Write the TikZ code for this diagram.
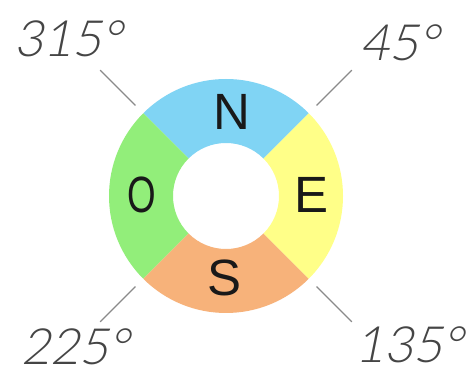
\documentclass[tikz,border=0pt]{standalone}
\usepackage{fontspec}
\newfontfamily\letfont{Liberation Sans}
\newfontfamily\degfont[FakeSlant=0.2]{Lato Light}
\definecolor{cblue}{HTML}{80D4F4}
\definecolor{cgreen}{HTML}{92EE7A}
\definecolor{cyellow}{HTML}{FFFF88}
\definecolor{corange}{HTML}{F7B27A}
\definecolor{tickgray}{HTML}{8A8A8A}
\definecolor{lblgray}{HTML}{454545}
\tikzset{
  letter/.style={font=\letfont\fontsize{51}{51}\selectfont, text=black!90, inner sep=0pt},
  deg/.style={font=\degfont\fontsize{50}{50}\selectfont, text=lblgray, inner sep=0pt},
  tick/.style={draw=tickgray, line width=1.1pt}
}
\begin{document}
\begin{tikzpicture}[x=1pt,y=1pt]
\useasboundingbox (0,0) rectangle (470,374);
\fill[white] (0,0) rectangle (470,374);
\begin{scope}[shift={(226,178)}]
  \fill[cblue]   (45:117) arc (45:135:117) -- (135:53) arc (135:45:53) -- cycle;
  \fill[cgreen]  (135:117) arc (135:225:117) -- (225:53) arc (225:135:53) -- cycle;
  \fill[corange] (225:117) arc (225:315:117) -- (315:53) arc (315:225:53) -- cycle;
  \fill[cyellow] (-45:117) arc (-45:45:117) -- (45:53) arc (45:-45:53) -- cycle;
  \coordinate (t1a) at (45:128);  \coordinate (t1b) at (45:178);
  \coordinate (t2a) at (135:128); \coordinate (t2b) at (135:178);
  \coordinate (t3a) at (225:128); \coordinate (t3b) at (225:178);
  \coordinate (t4a) at (315:128); \coordinate (t4b) at (315:178);
\end{scope}
\draw[tick] (t1a) -- (t1b);
\draw[tick] (t2a) -- (t2b);
\draw[tick] (t3a) -- (t3b);
\draw[tick] (t4a) -- (t4b);
\node[letter] (N) at (232,262) {N};
\node[letter] (E) at (312,179) {E};
\node[letter] (S) at (225,96) {S};
\node[letter] (O) at (142,179) {\scalebox{0.72}[1]{O}};
\node[deg] (d315) at (68,335) {315°};
\node[deg] (d45) at (400,331) {45°};
\node[deg] (d225) at (75,27) {225°};
\node[deg] (d135) at (409,29) {135°};
\end{tikzpicture}
\end{document}
